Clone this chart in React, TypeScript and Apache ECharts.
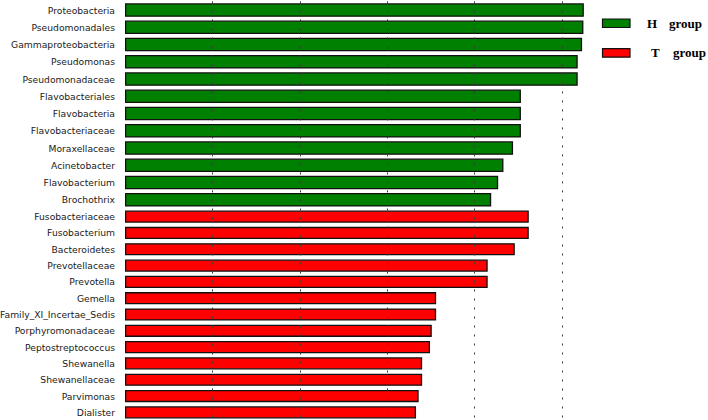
import React, { useEffect, useRef } from "react";
import * as echarts from "echarts";

const hNames = [
  "Proteobacteria",
  "Pseudomonadales",
  "Gammaproteobacteria",
  "Pseudomonas",
  "Pseudomonadaceae",
  "Flavobacteriales",
  "Flavobacteria",
  "Flavobacteriaceae",
  "Moraxellaceae",
  "Acinetobacter",
  "Flavobacterium",
  "Brochothrix",
];
const hValues = [5.25, 5.245, 5.23, 5.18, 5.18, 4.53, 4.53, 4.53, 4.44, 4.33, 4.27, 4.19];

const tNames = [
  "Fusobacteriaceae",
  "Fusobacterium",
  "Bacteroidetes",
  "Prevotellaceae",
  "Prevotella",
  "Gemella",
  "Family_XI_Incertae_Sedis",
  "Porphyromonadaceae",
  "Peptostreptococcus",
  "Shewanella",
  "Shewanellaceae",
  "Parvimonas",
  "Dialister",
];
const tValues = [4.62, 4.62, 4.46, 4.15, 4.15, 3.56, 3.56, 3.51, 3.49, 3.4, 3.4, 3.36, 3.33];

const gridTicks = [1, 2, 3, 4, 5];

const legendItems = [
  { letter: "H", word: "group", color: "#008000" },
  { letter: "T", word: "group", color: "#ff0000" },
];

export default function App() {
  const ref = useRef<HTMLDivElement>(null);
  useEffect(() => {
    if (!ref.current) return;
    const chart = echarts.init(ref.current, null, { renderer: "svg" });
    const labelStyle = {
      fontSize: 9.2,
      color: "#1a1a1a",
      fontFamily: "DejaVu Sans",
      margin: 10,
    };
    const markLine = {
      silent: true,
      symbol: "none",
      label: { show: false },
      lineStyle: { type: [2, 7], color: "#3a3a3a", width: 1 },
      data: gridTicks.map((v) => ({ xAxis: v })),
    };
    const xAxisBase = {
      type: "value",
      min: 0,
      max: 6,
      show: false,
    };
    const yAxisBase = {
      type: "category",
      inverse: true,
      axisLine: { show: false },
      axisTick: { show: false },
      splitLine: { show: false },
      axisLabel: labelStyle,
    };
    chart.setOption({
      animation: false,
      grid: [
        { left: 125, top: 1.4, width: 524.4, height: 207, containLabel: false, outerBoundsMode: "none" },
        { left: 125, top: 208.5, width: 524.4, height: 212, containLabel: false, outerBoundsMode: "none" },
      ],
      xAxis: [
        { ...xAxisBase, gridIndex: 0 },
        { ...xAxisBase, gridIndex: 1 },
      ],
      yAxis: [
        { ...yAxisBase, gridIndex: 0, data: hNames },
        { ...yAxisBase, gridIndex: 1, data: tNames },
      ],
      series: [
        {
          name: "H group",
          type: "bar",
          xAxisIndex: 0,
          yAxisIndex: 0,
          data: hValues,
          barWidth: 13.6,
          itemStyle: { color: "#008000", borderColor: "#111", borderWidth: 1.3 },
          markLine,
        },
        {
          name: "T group",
          type: "bar",
          xAxisIndex: 1,
          yAxisIndex: 1,
          data: tValues,
          barWidth: 12.2,
          itemStyle: { color: "#ff0000", borderColor: "#111", borderWidth: 1.3 },
          markLine,
        },
      ],
      graphic: legendItems.flatMap((it, i) => {
        const y0 = i === 0 ? 19 : 48.7;
        const dx = i === 0 ? 0 : 4;
        const font = 'bold 13px "Liberation Serif"';
        return [
          {
            type: "rect",
            shape: { x: 602.5, y: y0, width: 27.5, height: 8.5 },
            style: { fill: it.color, stroke: "#111", lineWidth: 1.2 },
          },
          {
            type: "text",
            x: 647 + dx,
            y: y0 + 4,
            style: { text: it.letter, font, fill: "#000", verticalAlign: "middle" },
          },
          {
            type: "text",
            x: 669 + dx,
            y: y0 + 4,
            style: { text: it.word, font, fill: "#000", verticalAlign: "middle" },
          },
        ];
      }),
    });
    return () => chart.dispose();
  }, []);
  return (
    <div
      ref={ref}
      style={{ position: "fixed", left: 0, top: 0, width: 708, height: 420, background: "#fff" }}
    />
  );
}
